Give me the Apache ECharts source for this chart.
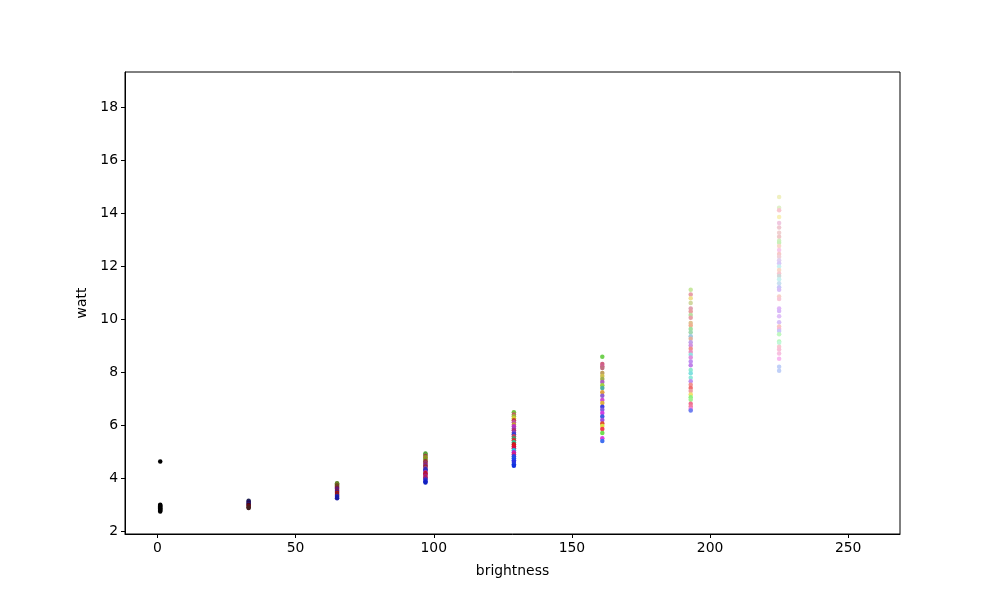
<!DOCTYPE html>
<html><head><meta charset="utf-8">
<script src="https://cdn.jsdelivr.net/npm/echarts@6/dist/echarts.min.js"></script>
<style>html,body{margin:0;padding:0;background:#fff}#c{width:1000px;height:600px}</style>
</head><body><div id="c"></div>
<script>
var brightness = [1, 33, 65, 97, 129, 161, 193, 225];
var xTicks = [0, 50, 100, 150, 200, 250];
var yTicks = [2, 4, 6, 8, 10, 12, 14, 16, 18];

var watt1 = [4.62, 2.99, 2.96, 2.93, 2.9, 2.86, 2.83, 2.8, 2.77, 2.74];
var col1 = ['#000000','#000000','#000000','#000000','#000000','#000000','#000000','#000000','#000000','#000000'];

var watt33 = [3.14, 3.1, 3.06, 3.02, 2.98, 2.94, 2.9, 2.87];
var col33 = ['#2a2a55','#1a1a60','#300050','#202070','#500020','#601010','#501818','#402020'];

var watt65 = [3.8, 3.76, 3.72, 3.68, 3.64, 3.6, 3.56, 3.52, 3.48, 3.44, 3.4, 3.36, 3.32, 3.28, 3.24];
var col65 = ['#5a7a20','#6a8a2a','#7a2a20','#5a6a20','#8a2020','#6a1a6a','#5a1a8a','#8a1a3a','#3a1a9a','#aa1010','#7a1a2a','#9a1020','#2a2aa0','#1a1ab0','#1a1aa0'];

var watt97 = [4.92, 4.88, 4.83, 4.78, 4.73, 4.68, 4.63, 4.58, 4.53, 4.48, 4.43, 4.38, 4.33, 4.28, 4.23, 4.18, 4.13, 4.08, 4.03, 3.98, 3.93, 3.88, 3.83];
var col97 = ['#4aa030','#60a040','#a04040','#8a9a20','#9a8a20','#6a9a30','#a03030','#8a3a70','#a02a50','#7a2a9a','#a02a2a','#8a3a8a','#3a2ab0','#2a30c0','#9a2a9a','#c01020','#b01050','#a02080','#c02040','#8020a0','#3030c0','#2020d0','#1020c0'];

var watt129 = [6.48, 6.4, 6.33, 6.25, 6.18, 6.1, 6.02, 5.95, 5.87, 5.8, 5.72, 5.65, 5.58, 5.5, 5.42, 5.35, 5.27, 5.2, 5.12, 5.05, 4.97, 4.9, 4.82, 4.75, 4.67, 4.6, 4.52, 4.46];
var col129 = ['#70c040','#c06060','#a0b040','#d0d030','#c04040','#c050a0','#c0a030','#c030c0','#a040c0','#b03070','#8040c0','#3040d0','#c04060','#40a060','#d03030','#30c090','#c02020','#e01020','#d01050','#20c0e0','#c020c0','#d02080','#3040e0','#2050e0','#2040f0','#3030e0','#2040e0','#1030e0'];

var watt161 = [8.58, 8.3, 8.22, 8.15, 7.96, 7.85, 7.74, 7.62, 7.5, 7.4, 7.24, 7.1, 6.94, 6.83, 6.69, 6.58, 6.45, 6.32, 6.19, 6.06, 5.96, 5.85, 5.7, 5.5, 5.4];
var col161 = ['#70d050','#d06080','#d06090','#c07080','#c0a060','#d0c050','#a0b050','#b060c0','#a0d040','#50b0a0','#e0a040','#9060d0','#d050d0','#e0b040','#4040e0','#8060e0','#d040e0','#4060e0','#a050e0','#e05030','#e0e040','#f04050','#70e050','#e040e0','#4070f0'];

var watt193 = [11.1, 10.92, 10.78, 10.6, 10.4, 10.28, 10.15, 10.05, 9.85, 9.75, 9.62, 9.5, 9.35, 9.25, 9.12, 9.0, 8.88, 8.75, 8.65, 8.55, 8.4, 8.25, 8.08, 7.95, 7.78, 7.65, 7.52, 7.4, 7.28, 7.15, 7.05, 6.95, 6.8, 6.7, 6.6, 6.55];
var col193 = ['#c8e8a0','#e8a0a8','#f0e090','#d0d8a0','#e0a0b0','#e8a0a0','#b8e0a0','#e8a0a8','#e0c090','#f0b090','#a0e0a0','#a0d8b0','#a0c8e0','#e0b0a0','#c0a0e8','#d090e0','#f09090','#e890c0','#90e0e0','#e090e0','#c090f0','#c080e8','#90e8d0','#80e0e0','#90e8d8','#c090f0','#f09090','#f07070','#f0a0a0','#f0e070','#90f080','#a0f090','#f07090','#f080a0','#f080e0','#7080f0'];

var watt225 = [14.6, 14.2, 14.1, 13.85, 13.62, 13.45, 13.25, 13.1, 12.95, 12.88, 12.75, 12.6, 12.45, 12.35, 12.22, 12.1, 11.98, 11.85, 11.72, 11.62, 11.5, 11.35, 11.2, 11.1, 10.85, 10.75, 10.4, 10.3, 10.1, 9.88, 9.72, 9.62, 9.55, 9.42, 9.15, 9.1, 8.95, 8.85, 8.7, 8.5, 8.2, 8.05];
var col225 = ['#f0f0c0','#e0f0c8','#f8c8d0','#f8f0b8','#f0c8e0','#f0c8d0','#f0d0d0','#f0c8c8','#d0f0c0','#c8f0b8','#f8d8c8','#f8c8e8','#f8c8c8','#f0d0d8','#e0d0f0','#d8c8f8','#c8f0f0','#f8d8c8','#f8c8d0','#d0d8d8','#c8f0f0','#c8e0f0','#c8c8f8','#d8c0f8','#f8d0c8','#f8c8d8','#e0b8f8','#d8b8f8','#e0c0f8','#d8c0f8','#f8c8c0','#f8b8d8','#c8c8f8','#c0f8c0','#b8f8b8','#c0f8d8','#f8c8d0','#f8c0d8','#f8c0e0','#f8b8f0','#c0d0f8','#c0d0f8'];

var wattCols = [watt1, watt33, watt65, watt97, watt129, watt161, watt193, watt225];
var colorCols = [col1, col33, col65, col97, col129, col161, col193, col225];

var pts = [];
brightness.forEach(function (b, i) {
  wattCols[i].forEach(function (w, j) {
    pts.push({ value: [b, w], itemStyle: { color: colorCols[i][j] } });
  });
});

var font = 'DejaVu Sans';
var chart = echarts.init(document.getElementById('c'), null, { renderer: 'canvas' });
chart.setOption({
  animation: false,
  backgroundColor: '#ffffff',
  grid: { left: 125, right: 100, top: 72, bottom: 66, show: true, borderColor: '#000', borderWidth: 1, backgroundColor: 'transparent' },
  xAxis: {
    type: 'value', min: -11.75, max: 268.75,
    name: 'brightness', nameLocation: 'middle', nameGap: 30,
    nameTextStyle: { fontFamily: font, fontSize: 13.9, color: '#000' },
    axisLine: { show: true, onZero: false, lineStyle: { color: '#000', width: 1 } },
    axisTick: { show: true, inside: false, length: 4, customValues: xTicks, lineStyle: { color: '#000' } },
    axisLabel: { customValues: xTicks, fontFamily: font, fontSize: 13.9, color: '#000', margin: 7 },
    splitLine: { show: false }
  },
  yAxis: {
    type: 'value', min: 1.887, max: 19.32,
    name: 'watt', nameLocation: 'middle', nameGap: 32, nameRotate: 90,
    nameTextStyle: { fontFamily: font, fontSize: 13.9, color: '#000' },
    axisLine: { show: true, onZero: false, lineStyle: { color: '#000', width: 1 } },
    axisTick: { show: true, inside: false, length: 4, customValues: yTicks, lineStyle: { color: '#000' } },
    axisLabel: { customValues: yTicks, fontFamily: font, fontSize: 13.9, color: '#000', margin: 7 },
    splitLine: { show: false }
  },
  series: [{
    type: 'scatter', symbol: 'circle', symbolSize: 4.5,
    itemStyle: { opacity: 1 },
    data: pts
  }]
});
</script></body></html>
